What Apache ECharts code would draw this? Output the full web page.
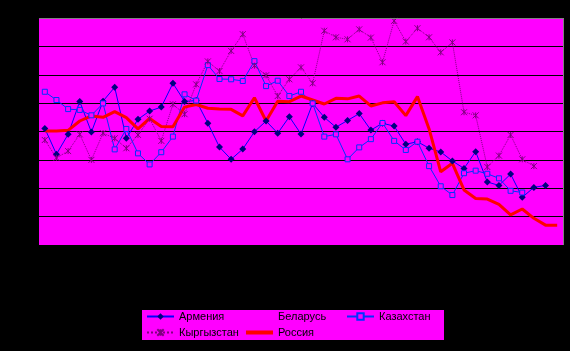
<!DOCTYPE html>
<html><head><meta charset="utf-8">
<script src="https://cdn.jsdelivr.net/npm/echarts@6/dist/echarts.min.js"></script>
<style>html,body{margin:0;padding:0;background:#000;}#c{width:570px;height:351px;}</style>
</head><body><div id="c"></div>
<script>
const categories = ['1','2','3','4','5','6','7','8','9','10','11','12','13','14','15','16','17','18','19','20','21','22','23','24','25','26','27','28','29','30','31','32','33','34','35','36','37','38','39','40','41','42','43','44','45'];
const seriesNames = ['Армения','Беларусь','Казахстан','Кыргызстан','Россия'];
const armenia = [41.1,32.0,39.0,50.6,39.8,50.7,55.6,37.6,44.3,47.2,48.6,57.0,50.6,50.9,42.9,34.5,30.2,33.8,39.9,43.7,39.4,45.2,39.1,49.9,45.0,41.5,43.9,46.3,40.5,42.9,41.9,35.5,36.4,34.1,32.8,29.6,27.0,32.9,22.2,21.0,25.0,16.8,20.3,21.0,null];
const belarus = [];
const kazakhstan = [54.0,51.1,47.9,47.6,45.7,49.9,33.7,40.9,32.3,28.4,32.7,38.2,53.1,50.9,63.4,58.5,58.4,57.8,64.8,56.0,57.9,52.5,54.0,49.9,38.2,39.0,30.2,34.4,37.3,43.0,36.7,33.5,36.4,27.8,20.7,17.6,25.3,26.2,25.1,23.5,19.1,18.5,null,null,null];
const kyrgyzstan = [37.0,30.7,33.1,39.0,30.0,39.4,37.6,34.1,38.8,44.5,36.7,49.6,46.1,56.6,64.7,61.3,68.4,74.3,63.2,59.8,52.5,58.4,62.6,57.0,75.5,73.2,72.5,76.0,73.1,64.4,79.0,71.7,76.4,73.2,67.9,71.4,46.8,45.7,27.5,31.5,38.8,30.2,27.8,null,null];
const russia = [40.2,40.2,40.4,43.7,45.5,45.0,47.0,44.9,40.9,44.6,41.8,41.7,48.6,49.5,48.2,47.9,47.8,45.5,51.9,43.7,50.7,50.5,52.5,51.1,49.7,51.7,51.5,52.5,49.0,50.1,50.5,45.6,52.3,40.9,25.8,28.8,19.4,16.4,16.2,14.3,10.6,12.7,9.4,7.0,7.0];
const yMin = 0, yMax = 80, yInterval = 10;

const asterisk = 'path://M0,0L8,8M8,0L0,8M4,0L4,8';
const font = 'Liberation Sans, Arial, sans-serif';
const legendBase = {
  top: 310, orient: 'vertical', padding: 0,
  itemWidth: 27, itemHeight: 8, itemGap: 3,
  textStyle: {color: '#000000', fontSize: 11, lineHeight: 13, fontFamily: font},
  selectedMode: false
};
const chart = echarts.init(document.getElementById('c'), null, {renderer:'canvas'});
chart.setOption({
  animation: false,
  backgroundColor: '#000000',
  textStyle: {fontFamily: font},
  grid: {left: 39, right: 7, top: 18, bottom: 106, show: true, backgroundColor: '#FF00FF', borderWidth: 0},
  xAxis: {type: 'category', data: categories, boundaryGap: true,
    axisLine: {show: false}, axisTick: {show: false}, axisLabel: {show: false}, splitLine: {show: false}},
  yAxis: {type: 'value', min: yMin, max: yMax, interval: yInterval,
    axisLine: {show: false}, axisTick: {show: false}, axisLabel: {show: false},
    splitLine: {show: true, lineStyle: {color: '#000000', width: 1}}},
  graphic: [
    {type: 'line', z: 100, shape: {x1: 39, y1: 18.5, x2: 564, y2: 18.5}, style: {stroke: '#808080', lineWidth: 1}},
    {type: 'line', z: 100, shape: {x1: 563.5, y1: 18, x2: 563.5, y2: 245}, style: {stroke: '#808080', lineWidth: 1}},
    {type: 'rect', z: -10, shape: {x: 142, y: 310, width: 302, height: 30}, style: {fill: '#FF00FF'}}
  ],
  legend: [
    Object.assign({}, legendBase, {left: 146, data: [{name: seriesNames[0]}, {name: seriesNames[3]}]}),
    Object.assign({}, legendBase, {left: 246, itemHeight: 4, data: [{name: seriesNames[1], icon: 'none'}, {name: seriesNames[4], icon: 'rect'}]}),
    Object.assign({}, legendBase, {left: 346, data: [{name: seriesNames[2]}]})
  ],
  series: [
    {name: seriesNames[0], type: 'line', data: armenia, symbol: 'diamond', symbolSize: 7, showAllSymbol: true,
      lineStyle: {color: '#0000FF', width: 1}, itemStyle: {color: '#000080'}},
    {name: seriesNames[1], type: 'line', data: belarus, symbol: 'none',
      lineStyle: {color: '#FF00FF', width: 1, opacity: 0}, itemStyle: {color: '#FF00FF'}},
    {name: seriesNames[2], type: 'line', data: kazakhstan, symbol: 'rect', symbolSize: 5, showAllSymbol: true,
      lineStyle: {color: '#0033FF', width: 1}, itemStyle: {color: '#FF00FF', borderColor: '#0033FF', borderWidth: 1}},
    {name: seriesNames[3], type: 'line', data: kyrgyzstan, symbol: asterisk, symbolSize: 6, showAllSymbol: true,
      lineStyle: {color: '#800080', width: 1, type: 'dotted'}, itemStyle: {color: '#800080', borderColor: '#800080', borderWidth: 1}},
    {name: seriesNames[4], type: 'line', data: russia, symbol: 'none',
      lineStyle: {color: '#FF0000', width: 3}, itemStyle: {color: '#FF0000'}}
  ]
});
</script></body></html>
